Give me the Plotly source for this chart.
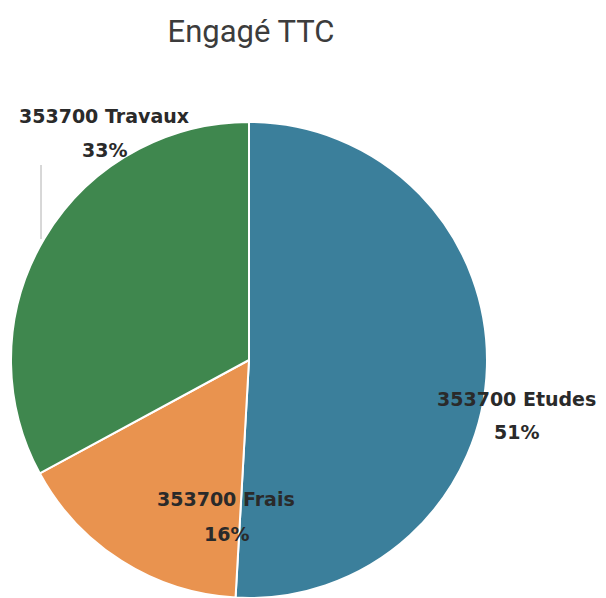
import plotly.graph_objs as go

# page body has an 8px margin, so the figure sits at (8, 8) in the window
OFF = 8
W, H = 606 - OFF, 598 - OFF

# data
categories = ["Etudes", "Frais", "Travaux"]
shares = [50.9, 16.2, 32.9]
amounts = ["353700", "353700", "353700"]
colors = ["#3b7f9b", "#e9934f", "#3f874e"]

# label anchor points in window pixels (x, line 1 centre y, line 2 centre y)
label_pos = {
    "Etudes": (516, 399, 432),
    "Frais": (226, 499, 534),
    "Travaux": (104, 116, 150),
}


def px(x):
    return (x - OFF) / W


def py(y):
    return 1 - (y - OFF) / H


total = sum(shares)
annotations = []
for name, val, amt in zip(categories, shares, amounts):
    x, y1, y2 = label_pos[name]
    for txt, yy in [(f"{amt} {name}", y1), (f"{round(val / total * 100)}%", y2)]:
        annotations.append(
            dict(
                text=f"<b>{txt}</b>",
                x=px(x),
                y=py(yy),
                xref="paper",
                yref="paper",
                xanchor="center",
                yanchor="middle",
                showarrow=False,
                font=dict(family="DejaVu Sans", size=19, color="#2a2a2a"),
            )
        )

trace = go.Pie(
    labels=categories,
    values=shares,
    sort=False,
    direction="clockwise",
    rotation=0,
    marker=dict(colors=colors, line=dict(color="white", width=2)),
    textinfo="none",
    hoverinfo="label+percent",
    showlegend=False,
    domain=dict(x=[px(8), px(490)], y=[0, py(122)]),
)

layout = go.Layout(
    width=W,
    height=H,
    margin=dict(l=0, r=0, t=0, b=0),
    paper_bgcolor="white",
    title=dict(
        text="Engagé TTC",
        x=px(251),
        y=py(31),
        xanchor="center",
        yanchor="middle",
        font=dict(family="Roboto", size=31, color="#3c3c3c"),
    ),
    annotations=annotations,
    shapes=[
        dict(
            type="line",
            xref="paper",
            yref="paper",
            x0=px(41),
            x1=px(41),
            y0=py(165),
            y1=py(239),
            line=dict(color="#b0b0b0", width=1),
        )
    ],
)

fig = go.Figure(data=[trace], layout=layout)
fig.write_html("out.html")
